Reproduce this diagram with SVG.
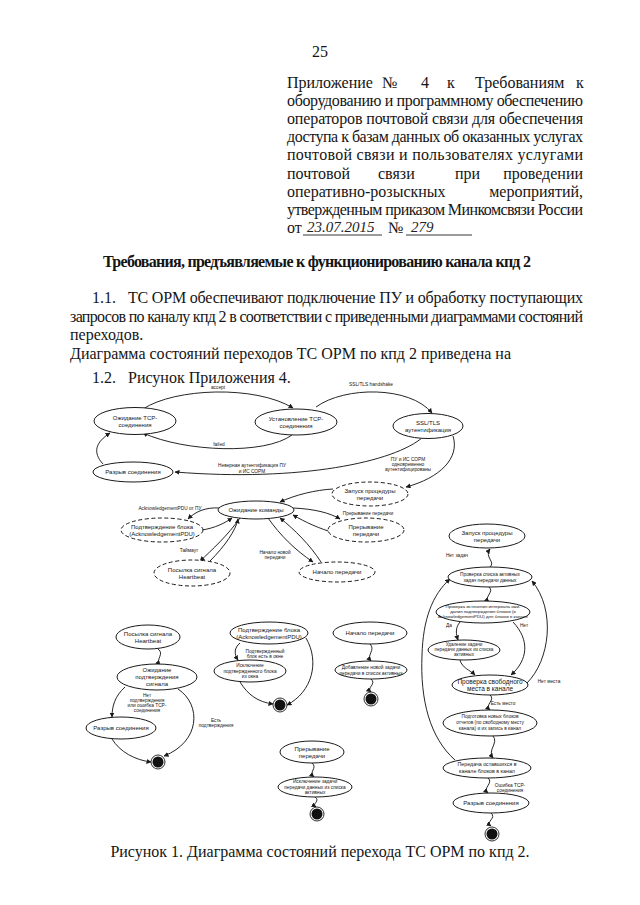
<svg xmlns="http://www.w3.org/2000/svg" width="640" height="905" viewBox="0 0 640 905">
<style>
.t{font-family:"Liberation Serif","Times New Roman",serif;font-size:16px;fill:#151515}
.b{font-weight:bold}
.h{font-family:"Liberation Serif",serif;font-style:italic;font-size:15px;fill:#222}
.n{font-family:"Liberation Sans",Arial,sans-serif;font-size:6px;fill:#151515;text-anchor:middle}
.s{font-family:"Liberation Sans",Arial,sans-serif;font-size:4.8px;fill:#151515;text-anchor:middle}
.e{font-family:"Liberation Sans",Arial,sans-serif;font-size:4.8px;fill:#151515;text-anchor:middle}
.sh{fill:#fff;stroke:#1a1a1a;stroke-width:1}
.d{stroke-dasharray:4 2.5}
.c{fill:none;stroke:#1a1a1a;stroke-width:0.95}
.u{stroke:#222;stroke-width:0.9}
</style>
<defs>
<marker id="a" viewBox="0 0 10 10" refX="9" refY="5" markerWidth="5" markerHeight="5" markerUnits="userSpaceOnUse" orient="auto"><path d="M0,0 L10,5 L0,10 z" fill="#1a1a1a"/></marker>
</defs>
<rect width="640" height="905" fill="#fff"/>

<g id="header">
<text class="t" x="320" y="57" text-anchor="middle">25</text>
<text class="t" x="287" y="88">Приложение</text>
<text class="t" x="382" y="88">№</text>
<text class="t" x="421" y="88">4</text>
<text class="t" x="447" y="88">к</text>
<text class="t" x="475" y="88">Требованиям</text>
<text class="t" x="576" y="88">к</text>
<text class="t" x="287" y="106" textLength="296" lengthAdjust="spacing">оборудованию и программному обеспечению</text>
<text class="t" x="287" y="124" textLength="296" lengthAdjust="spacing">операторов почтовой связи для обеспечения</text>
<text class="t" x="287" y="142" textLength="296" lengthAdjust="spacing">доступа к базам данных об оказанных услугах</text>
<text class="t" x="287" y="160" textLength="296" lengthAdjust="spacing">почтовой связи и пользователях услугами</text>
<text class="t" x="287" y="179">почтовой</text>
<text class="t" x="378" y="179">связи</text>
<text class="t" x="455" y="179">при</text>
<text class="t" x="583" y="179" text-anchor="end">проведении</text>
<text class="t" x="287" y="197">оперативно-розыскных</text>
<text class="t" x="583" y="197" text-anchor="end">мероприятий,</text>
<text class="t" x="287" y="215" textLength="296" lengthAdjust="spacing">утвержденным приказом Минкомсвязи России</text>
<text class="t" x="287" y="233">от</text>
<text class="h" x="307" y="232">23.07.2015</text>
<line class="u" x1="303" y1="235" x2="382" y2="235"/>
<text class="t" x="388" y="233">№</text>
<text class="h" x="411" y="232">279</text>
<line class="u" x1="406" y1="235" x2="472" y2="235"/>
<text class="t b" x="317" y="267" text-anchor="middle" textLength="428" lengthAdjust="spacing">Требования, предъявляемые к функционированию канала кпд 2</text>
<text class="t" x="92" y="303">1.1.</text>
<text class="t" x="128" y="303" textLength="455" lengthAdjust="spacing">ТС ОРМ обеспечивают подключение ПУ и обработку поступающих</text>
<text class="t" x="70" y="322" textLength="513" lengthAdjust="spacing">запросов по каналу кпд 2 в соответствии с приведенными диаграммами состояний</text>
<text class="t" x="70" y="340">переходов.</text>
<text class="t" x="70" y="359">Диаграмма состояний переходов ТС ОРМ по кпд 2 приведена на</text>
<text class="t" x="92" y="383">1.2.</text>
<text class="t" x="128" y="383">Рисунок Приложения 4.</text>
</g>

<g id="connectors">
<path class="c" marker-end="url(#a)" d="M143,409 C175,388 255,385 293,408"/>
<path class="c" marker-end="url(#a)" d="M316,407 C345,386 410,386 432,413"/>
<path class="c" marker-end="url(#a)" d="M292,435 C265,455 185,452 143,433"/>
<path class="c" marker-end="url(#a)" d="M423,437 C395,462 300,482 175,472"/>
<path class="c" marker-end="url(#a)" d="M103,464 C92,452 96,442 110,433"/>
<path class="c" marker-end="url(#a)" d="M453,436 C460,458 440,478 406,487"/>
<path class="c" marker-end="url(#a)" d="M333,489 C315,490 295,495 280,502"/>
<path class="c" marker-end="url(#a)" d="M220,508 C205,507 195,512 188,519"/>
<path class="c" marker-end="url(#a)" d="M202,530 C215,528 225,523 232,518"/>
<path class="c" marker-end="url(#a)" d="M293,508 C315,509 330,513 340,519"/>
<path class="c" marker-end="url(#a)" d="M335,533 C320,529 305,522 293,515"/>
<path class="c" marker-end="url(#a)" d="M240,518 C228,535 212,550 200,561"/>
<path class="c" marker-end="url(#a)" d="M210,561 C225,546 236,530 238,519"/>
<path class="c" marker-end="url(#a)" d="M268,518 C280,535 295,550 313,562"/>
<path class="c" marker-end="url(#a)" d="M321,562 C310,545 295,530 280,518"/>

<path class="c" marker-end="url(#a)" d="M490,567 C496,562 484,557 490,549"/>
<path class="c" marker-end="url(#a)" d="M489,587 C495,592 483,597 489,602"/>
<path class="c" marker-end="url(#a)" d="M460,622 C455,628 456,634 458,640"/>
<path class="c" marker-end="url(#a)" d="M513,622 C530,640 528,660 511,675"/>
<path class="c" marker-end="url(#a)" d="M460,660 C462,668 470,670 475,675"/>
<path class="c" marker-end="url(#a)" d="M527,683 C550,660 556,610 532,581"/>
<path class="c" marker-end="url(#a)" d="M490,695 C496,700 484,705 490,710"/>
<path class="c" marker-end="url(#a)" d="M493,736 C499,743 487,750 493,758"/>
<path class="c" marker-end="url(#a)" d="M455,760 C430,738 420,700 422,655 C423,620 432,595 450,579"/>
<path class="c" marker-end="url(#a)" d="M488,778 C494,783 482,788 488,793"/>
<path class="c" marker-end="url(#a)" d="M491,813 C497,818 485,822 491,826"/>

<path class="c" marker-end="url(#a)" d="M158,649 C165,654 155,659 160,665"/>
<path class="c" marker-end="url(#a)" d="M125,687 C115,696 112,706 112,717"/>
<path class="c" marker-end="url(#a)" d="M112,739 C120,752 135,760 151,762"/>
<path class="c" marker-end="url(#a)" d="M178,689 C202,705 200,742 164,756"/>

<path class="c" marker-end="url(#a)" d="M240,643 C234,648 234,654 238,660"/>
<path class="c" marker-end="url(#a)" d="M240,682 C248,695 258,702 273,704"/>
<path class="c" marker-end="url(#a)" d="M306,638 C320,662 312,692 287,705"/>

<path class="c" marker-end="url(#a)" d="M370,644 C376,650 366,655 371,661"/>
<path class="c" marker-end="url(#a)" d="M371,679 C377,684 366,688 371,692"/>

<path class="c" marker-end="url(#a)" d="M312,763 C318,768 308,772 314,777"/>
<path class="c" marker-end="url(#a)" d="M315,797 C321,801 311,804 316,807"/>

<text class="e" x="218" y="389">accept</text>
<text class="e" x="371" y="386">SSL/TLS handshake</text>
<text class="e" x="219" y="446">failed</text>
<text class="e" x="252" y="467">Неверная аутентификация ПУ</text>
<text class="e" x="252" y="472.5">и ИС СОРМ</text>
<text class="e" x="408" y="461">ПУ и ИС СОРМ</text>
<text class="e" x="408" y="466">одновременно</text>
<text class="e" x="408" y="471">аутентифицированы</text>
<text class="e" x="170" y="510">AcknowledgementPDU от ПУ</text>
<text class="e" x="368" y="515">Прерывание передачи</text>
<text class="e" x="189" y="552">Таймаут</text>
<text class="e" x="275" y="554">Начало новой</text>
<text class="e" x="275" y="559">передачи</text>
<text class="e" x="457" y="557">Нет задач</text>
<text class="e" x="449" y="627">Да</text>
<text class="e" x="524" y="627">Нет</text>
<text class="e" x="549" y="683">Нет места</text>
<text class="e" x="503" y="705">Есть место</text>
<text class="e" x="510" y="787">Ошибка TCP-</text>
<text class="e" x="510" y="792">соединения</text>
<text class="e" x="147" y="697">Нет</text>
<text class="e" x="147" y="702">подтверждения</text>
<text class="e" x="147" y="707">или ошибка TCP-</text>
<text class="e" x="147" y="712">соединения</text>
<text class="e" x="216" y="722">Есть</text>
<text class="e" x="216" y="727">подтверждения</text>
<text class="e" x="265" y="653">Подтвержденный</text>
<text class="e" x="265" y="658">блок есть в окне</text>
</g>

<g id="n-wait-tcp"><ellipse class="sh" cx="135" cy="421" rx="41" ry="13.5"/><text class="n" x="135" y="420">Ожидание TCP-</text><text class="n" x="135" y="427">соединения</text></g>
<g id="n-establish"><ellipse class="sh" cx="296" cy="422" rx="41" ry="13"/><text class="n" x="296" y="421">Установление TCP-</text><text class="n" x="296" y="428">соединения</text></g>
<g id="n-ssl"><ellipse class="sh" cx="428" cy="426" rx="35" ry="12.5"/><text class="n" x="428" y="425">SSL/TLS</text><text class="n" x="428" y="432">аутентификация</text></g>
<g id="n-break1"><ellipse class="sh" cx="133" cy="472" rx="40" ry="10"/><text class="n" x="133" y="474">Разрыв соединения</text></g>
<g id="n-start-d"><ellipse class="sh d" cx="370" cy="494" rx="38" ry="12"/><text class="n" x="370" y="493">Запуск процедуры</text><text class="n" x="370" y="500">передачи</text></g>
<g id="n-wait-cmd"><ellipse class="sh" cx="256" cy="510" rx="38" ry="9"/><text class="n" x="256" y="512">Ожидание команды</text></g>
<g id="n-ack-d"><ellipse class="sh d" cx="162" cy="530" rx="41" ry="12"/><text class="n" x="162" y="529">Подтверждение блока</text><text class="n" x="162" y="536">(AcknowledgementPDU)</text></g>
<g id="n-abort-d"><ellipse class="sh d" cx="366" cy="530" rx="38" ry="12"/><text class="n" x="366" y="529">Прерывание</text><text class="n" x="366" y="536">передачи</text></g>
<g id="n-hb-d"><ellipse class="sh d" cx="192" cy="573" rx="38" ry="13"/><text class="n" x="192" y="572">Посылка сигнала</text><text class="n" x="192" y="579">Heartbeat</text></g>
<g id="n-begin-d"><ellipse class="sh d" cx="337" cy="572" rx="38" ry="10"/><text class="n" x="337" y="574">Начало передачи</text></g>

<g id="n-hb"><ellipse class="sh" cx="148" cy="637" rx="32" ry="12"/><text class="n" x="148" y="636">Посылка сигнала</text><text class="n" x="148" y="643">Heartbeat</text></g>
<g id="n-wait-hb"><ellipse class="sh" cx="157" cy="677" rx="40" ry="13"/><text class="n" x="157" y="672">Ожидание</text><text class="n" x="157" y="679">подтверждения</text><text class="n" x="157" y="686">сигнала</text></g>
<g id="n-break2"><ellipse class="sh" cx="121" cy="728" rx="35" ry="11"/><text class="n" x="121" y="730">Разрыв соединения</text></g>
<g id="f1"><circle cx="158" cy="762" r="7" fill="#fff" stroke="#1a1a1a" stroke-width="0.9"/><circle cx="158" cy="762" r="5.5" fill="#111"/></g>

<g id="n-ack"><ellipse class="sh" cx="269" cy="633" rx="39" ry="11"/><text class="n" x="269" y="632">Подтверждение блока</text><text class="n" x="269" y="639">(AcknowledgementPDU)</text></g>
<g id="n-excl"><ellipse class="sh" cx="250" cy="671" rx="36" ry="11"/><text class="s" x="250" y="667">Исключение</text><text class="s" x="250" y="672.5">подтвержденного блока</text><text class="s" x="250" y="678">из окна</text></g>
<g id="f2"><circle cx="280" cy="705" r="7" fill="#fff" stroke="#1a1a1a" stroke-width="0.9"/><circle cx="280" cy="705" r="5.5" fill="#111"/></g>

<g id="n-begin"><ellipse class="sh" cx="370" cy="633" rx="37" ry="11"/><text class="n" x="370" y="635">Начало передачи</text></g>
<g id="n-add"><ellipse class="sh" cx="371" cy="670" rx="36" ry="9"/><text class="s" x="371" y="669">Добавление новой задачи</text><text class="s" x="371" y="674.5">передачи в список активных</text></g>
<g id="f3"><circle cx="371" cy="699" r="7" fill="#fff" stroke="#1a1a1a" stroke-width="0.9"/><circle cx="371" cy="699" r="5.5" fill="#111"/></g>

<g id="n-abort"><ellipse class="sh" cx="312" cy="752" rx="32" ry="11"/><text class="n" x="312" y="751">Прерывание</text><text class="n" x="312" y="758">передачи</text></g>
<g id="n-excl-task"><ellipse class="sh" cx="315" cy="787" rx="37" ry="10"/><text class="s" x="315" y="783">Исключение задачи</text><text class="s" x="315" y="788.5">передачи данных из списка</text><text class="s" x="315" y="794">активных</text></g>
<g id="f4"><circle cx="317" cy="814" r="7" fill="#fff" stroke="#1a1a1a" stroke-width="0.9"/><circle cx="317" cy="814" r="5.5" fill="#111"/></g>

<g id="n-start"><ellipse class="sh" cx="487" cy="536" rx="38" ry="12"/><text class="n" x="487" y="535">Запуск процедуры</text><text class="n" x="487" y="542">передачи</text></g>
<g id="n-check-list"><ellipse class="sh" cx="490" cy="577" rx="42" ry="10"/><text class="s" x="490" y="576">Проверка списка активных</text><text class="s" x="490" y="581.5">задач передачи данных</text></g>
<g id="n-check-timeout"><ellipse class="sh" cx="483" cy="612" rx="47" ry="11"/><text class="s" x="483" y="608" style="font-size:4.4px">Проверка истечения интервала ожи-</text><text class="s" x="483" y="613" style="font-size:4.4px">дания подтверждения блоков (в</text><text class="s" x="483" y="618" style="font-size:4.4px">AcknowledgementPDU) для блоков в канале</text></g>
<g id="n-del"><ellipse class="sh" cx="464" cy="650" rx="36" ry="10"/><text class="s" x="464" y="646" style="font-size:4.6px">Удаление задачи</text><text class="s" x="464" y="651" style="font-size:4.6px">передачи данных из списка</text><text class="s" x="464" y="656" style="font-size:4.6px">активных</text></g>
<g id="n-check-space"><ellipse class="sh" cx="490" cy="685" rx="38" ry="10"/><text class="n" x="490" y="684" style="font-size:6.5px">Проверка свободного</text><text class="n" x="490" y="691" style="font-size:6.5px">места в канале</text></g>
<g id="n-prepare"><ellipse class="sh" cx="490" cy="723" rx="47" ry="13"/><text class="s" x="490" y="718">Подготовка новых блоков</text><text class="s" x="490" y="724">отчетов (по свободному месту</text><text class="s" x="490" y="730">канала) и их запись в канал</text></g>
<g id="n-send"><ellipse class="sh" cx="487" cy="768" rx="44" ry="10"/><text class="n" x="487" y="766" style="font-size:5.3px">Передача  оставшихся в</text><text class="n" x="487" y="773" style="font-size:5.3px">канале блоков в канал</text></g>
<g id="n-break3"><ellipse class="sh" cx="491" cy="803" rx="38" ry="10"/><text class="n" x="491" y="805">Разрыв соединения</text></g>
<g id="f5"><circle cx="492" cy="834" r="7" fill="#fff" stroke="#1a1a1a" stroke-width="0.9"/><circle cx="492" cy="834" r="5.5" fill="#111"/></g>

<g id="caption">
<text class="t" x="320" y="857" text-anchor="middle">Рисунок 1. Диаграмма состояний перехода ТС ОРМ по кпд 2.</text>
</g>
</svg>
